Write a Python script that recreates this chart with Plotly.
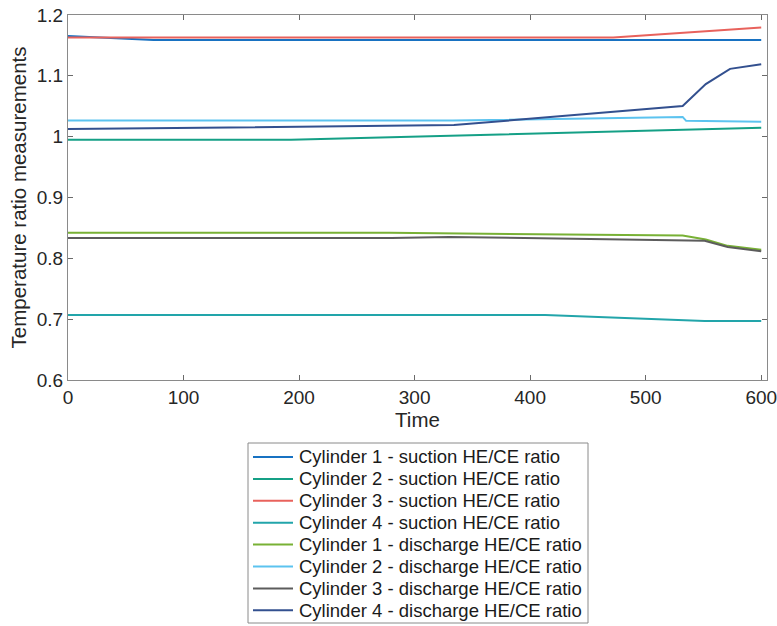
import plotly.graph_objects as go

# Data
t_c1s = [0, 74, 600]
y_c1s = [1.1655, 1.159, 1.159]

t_c2s = [0, 193, 600]
y_c2s = [0.995, 0.995, 1.0145]

t_c3s = [0, 472, 600]
y_c3s = [1.163, 1.163, 1.1795]

t_c4s = [0, 413, 551, 600]
y_c4s = [0.7068, 0.7068, 0.6968, 0.6968]

t_c1d = [0, 278, 532, 552, 571, 600]
y_c1d = [0.842, 0.842, 0.8375, 0.831, 0.8205, 0.814]

t_c2d = [0, 333, 532, 535, 600]
y_c2d = [1.0265, 1.0265, 1.0325, 1.026, 1.0245]

t_c3d = [0, 280, 330, 551, 571, 600]
y_c3d = [0.8335, 0.8335, 0.8352, 0.829, 0.8185, 0.8115]

t_c4d = [0, 334, 532, 552, 573, 600]
y_c4d = [1.0125, 1.019, 1.0505, 1.0865, 1.1115, 1.119]

x_ticks = [0, 100, 200, 300, 400, 500, 600]
y_ticks = [0.6, 0.7, 0.8, 0.9, 1.0, 1.1, 1.2]
y_ticklabels = ["0.6", "0.7", "0.8", "0.9", "1", "1.1", "1.2"]

names = [
    "Cylinder 1 - suction HE/CE ratio",
    "Cylinder 2 - suction HE/CE ratio",
    "Cylinder 3 - suction HE/CE ratio",
    "Cylinder 4 - suction HE/CE ratio",
    "Cylinder 1 - discharge HE/CE ratio",
    "Cylinder 2 - discharge HE/CE ratio",
    "Cylinder 3 - discharge HE/CE ratio",
    "Cylinder 4 - discharge HE/CE ratio",
]
colors = ["#1872c2", "#15a086", "#e8625c", "#22a5aa",
          "#78b135", "#5cc3ef", "#5c5c5c", "#33508f"]
xs = [t_c1s, t_c2s, t_c3s, t_c4s, t_c1d, t_c2d, t_c3d, t_c4d]
ys = [y_c1s, y_c2s, y_c3s, y_c4s, y_c1d, y_c2d, y_c3d, y_c4d]

W, H = 777, 626
# plot area in pixels: left 68, right 767, top 15, bottom 380
ML, MT = 68, 15
MR = W - 767
MB = H - 380
PW, PH = W - ML - MR, H - MT - MB

def px_x(px):  # pixel -> paper
    return (px - ML) / PW

def px_y(py):
    return (H - MB - py) / PH

fig = go.Figure()
for x, y, n, c in zip(xs, ys, names, colors):
    fig.add_trace(go.Scatter(x=x, y=y, mode="lines", name=n,
                             line=dict(color=c, width=2), showlegend=False))

font_family = "Liberation Sans, Arial, sans-serif"
axis_common = dict(showgrid=False, zeroline=False, showline=True,
                   linecolor="#8a8a8a", linewidth=1, mirror="ticks",
                   ticks="inside", ticklen=5, tickcolor="#6a6a6a",
                   automargin=False, ticklabeloverflow="allow",
                   tickfont=dict(size=19, color="#262626", family=font_family))

# Custom compact legend box (MATLAB-style)
leg_left, leg_right, leg_top, leg_bottom = 248, 588, 443, 623
row0, row_gap = 457, 21.9
shapes = [dict(type="rect", xref="paper", yref="paper",
               x0=px_x(leg_left), x1=px_x(leg_right),
               y0=px_y(leg_bottom), y1=px_y(leg_top),
               line=dict(color="#8a8a8a", width=1), fillcolor="white",
               layer="above")]
annotations = []
for i, (n, c) in enumerate(zip(names, colors)):
    yc = row0 + i * row_gap
    shapes.append(dict(type="line", xref="paper", yref="paper",
                       x0=px_x(253), x1=px_x(293), y0=px_y(yc), y1=px_y(yc),
                       line=dict(color=c, width=2), layer="above"))
    annotations.append(dict(xref="paper", yref="paper", x=px_x(297), y=px_y(yc),
                            text=n, showarrow=False, xanchor="left", yanchor="middle",
                            font=dict(size=18.5, color="#1a1a1a", family=font_family)))

fig.update_layout(
    width=W, height=H,
    margin=dict(l=ML, r=MR, t=MT, b=MB),
    plot_bgcolor="white", paper_bgcolor="white",
    font=dict(family=font_family, color="#262626"),
    xaxis=dict(range=[0, 605], tickvals=x_ticks,
               title=dict(text="Time", font=dict(size=20.5), standoff=2),
               **axis_common),
    yaxis=dict(range=[0.6, 1.2], tickvals=y_ticks, ticktext=y_ticklabels,
               title=dict(text="Temperature ratio measurements", font=dict(size=20.5), standoff=4),
               **axis_common),
    shapes=shapes,
    annotations=annotations,
    showlegend=False,
)

fig.write_html("out.html",
               config={"displayModeBar": False},
               post_script="document.body.style.margin='0px';document.body.style.overflow='hidden';")
